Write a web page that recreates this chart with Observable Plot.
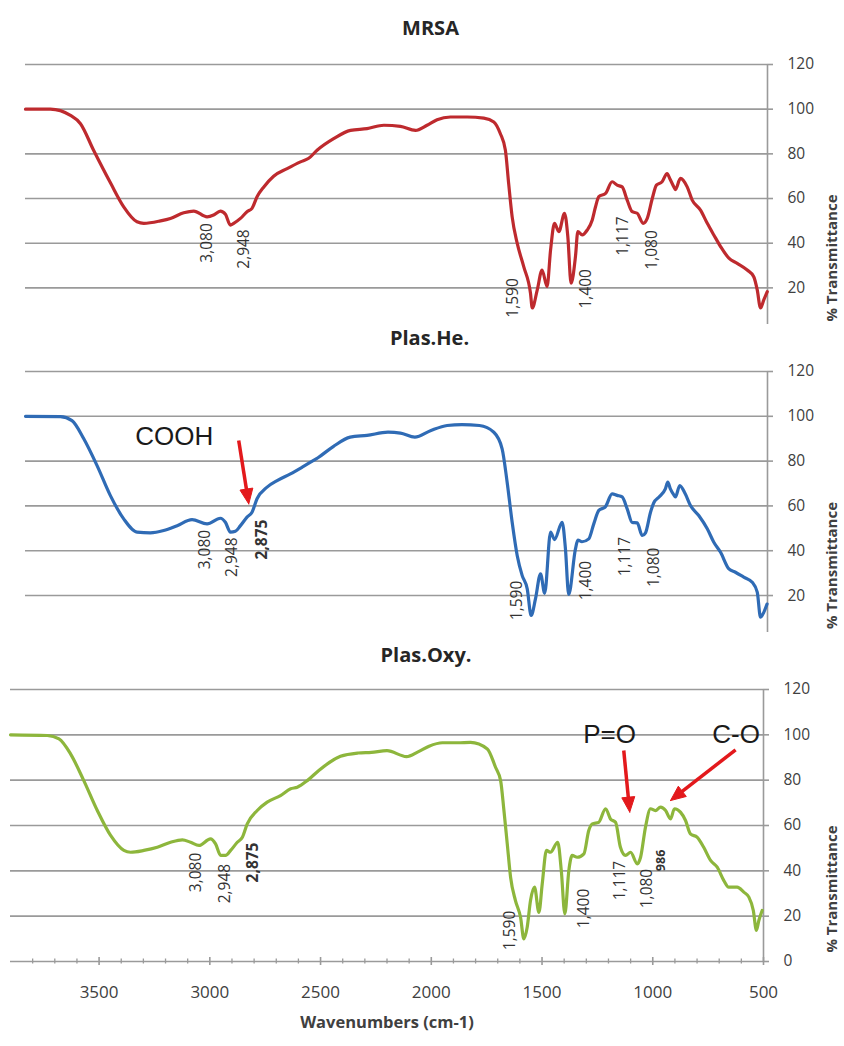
<!DOCTYPE html>
<html>
<head>
<meta charset="utf-8">
<script src="https://cdn.jsdelivr.net/npm/d3@7"></script>
<script src="https://cdn.jsdelivr.net/npm/@observablehq/plot@0.6"></script>
<style>
html, body { margin: 0; padding: 0; background: #fff; overflow: hidden; width: 844px; height: 1046px; }
#wrap { position: relative; width: 844px; height: 1046px; }
.panel { position: absolute; left: 0; width: 844px; }
.panel svg { display: block; }
</style>
</head>
<body>
<div id="wrap"></div>
<script>
// ---------------- data ----------------
const xDomain = [3900, 500];

// MRSA spectrum
const mrsaWn = [3900,3786,3694,3648,3588,3509,3450,3389,3358,3282,3236,3175,3129,3068,3038,3007,2984,2961,2946,2915,2885,2862,2839,2808,2763,2701,2640,2602,2564,2488,2411,2335,2258,2182,2113,2060,2014,1953,1876,1800,1754,1724,1701,1686,1670,1647,1617,1586,1578,1555,1533,1510,1494,1476,1456,1430,1415,1400,1380,1369,1349,1326,1303,1288,1273,1242,1212,1189,1166,1143,1120,1097,1070,1051,1028,1009,983,960,948,929,922,899,868,845,807,776,746,715,677,639,593,563,547,532,517,501];
const mrsaT = [100,100,97.2,93.5,81.6,66.7,56.3,49.6,48.9,50,51.1,53.6,54.4,51.8,52.6,54.4,53,48.1,48.9,51.1,54.1,55.6,60.8,65.2,70,73.4,76.4,78,81.6,86.8,90.5,91.3,92.8,92.3,90.5,92.8,95.3,96.5,96.5,96,94.3,89,81.6,66.7,51.8,40,29.5,17.6,11,19.1,28,20.6,37,48.9,45.2,53.4,43,22.1,34,45.2,43.7,45.9,50.4,56.3,60.8,62.3,67.5,66,65.2,59.3,54.1,53.4,48.9,51.1,60,66,67.5,71.2,69,65.2,64,69,65.2,59.3,54.8,48.9,43.7,38.5,33.3,31,28,25,19.1,11,14.6,18.3];

// Plas.He. spectrum
const heWn = [3900,3740,3687,3633,3572,3511,3450,3389,3328,3267,3205,3137,3068,3007,2984,2961,2938,2915,2885,2862,2839,2793,2747,2686,2632,2594,2560,2490,2412,2335,2239,2182,2116,2042,1968,1900,1820,1754,1716,1693,1670,1647,1624,1601,1583,1563,1540,1521,1494,1476,1441,1426,1411,1380,1369,1350,1319,1296,1273,1243,1212,1189,1166,1143,1120,1097,1074,1059,1036,1021,998,968,957,945,930,922,902,877,853,815,776,746,715,677,647,609,570,547,532,517,502];
const heT = [100,99.9,98.1,90,78,64.6,54.2,48.3,48,49,51.2,53.9,52,54.5,52.7,48.3,48.7,51.2,55,57.2,63.2,68.4,71.3,74.3,77.3,79.5,81.5,86.5,90.7,91.5,92.9,92.5,90.7,93.7,95.9,96.3,95.9,92.9,85.5,70.6,52.7,37.9,28.9,23,11.1,18.6,29.7,21,48.3,45,52.7,41,20.5,40.8,44.7,44,45.3,52,58,59.6,65.4,64.7,64,58.7,52.6,52.4,46.8,48,57.2,61.4,63.9,67.6,70.6,67.6,65,64,69.1,65.4,60.2,55.7,49.8,43.8,39.3,31.9,30.4,28.2,25.9,21.5,10.3,12.5,16.2];

// Plas.Oxy. spectrum
const oxyWn = [3900,3734,3681,3629,3569,3508,3448,3388,3358,3298,3237,3177,3124,3087,3049,2997,2974,2951,2929,2906,2876,2853,2831,2786,2741,2681,2635,2605,2560,2508,2410,2330,2270,2200,2112,2060,2010,1950,1880,1823,1747,1710,1687,1672,1657,1642,1620,1597,1582,1567,1552,1534,1514,1499,1480,1462,1429,1413,1397,1379,1364,1341,1311,1289,1273,1244,1213,1191,1168,1146,1123,1100,1070,1055,1033,1010,988,965,942,920,902,875,852,830,799,770,739,709,679,657,619,589,566,546,532,521,506];
const oxyT = [100,99.7,98.2,91.6,79.8,66.6,55.6,49,48.2,49,50.4,52.6,53.7,52.6,51.2,54.1,51.9,46.8,46.8,49,52.6,54.8,60.7,66.6,70.3,73.2,76.2,76.9,79.8,84.3,90.5,92,92.3,93,90.4,92.5,95,96.5,96.5,96.7,93.8,85.7,79.8,66.6,51.9,37.2,26.9,19.5,10,15.1,26.9,32.8,21.7,34.3,49,48.2,52.6,40.1,21,40.1,46.8,46,47.5,57.8,60.7,61.4,67.4,62.9,61.4,50.4,46.8,48.2,43.1,46,59.2,67.4,66.6,68.1,66.6,62.9,67.4,65.9,62.2,56.3,54.8,50.4,44.6,41.6,35.7,32.8,32.8,30.6,28.4,22.5,13.7,18.1,22.5];

// axis ticks
const yTicksTop = [20, 40, 60, 80, 100, 120];
const yTicksBottom = [0, 20, 40, 60, 80, 100, 120];
const xMajorTicks = [3500, 3000, 2500, 2000, 1500, 1000, 500];
const xMinorTicks = [3800,3700,3600,3400,3300,3200,3100,2900,2800,2700,2600,2400,2300,2200,2100,1900,1800,1700,1600,1400,1300,1200,1100,900,800,700,600];

// peak labels (text, position in wavenumber / %T, bold flag)
const mrsaLabelText = ["3,080", "2,948", "1,590", "1,400", "1,117", "1,080"];
const mrsaLabelWn   = [3066, 2900, 1664, 1330, 1160, 1027];
const mrsaLabelT    = [40.1, 37.4, 15.5, 19.6, 43.2, 37];
const mrsaLabelBold = [0, 0, 0, 0, 0, 0];

const heLabelText = ["3,080", "2,948", "2,875", "1,590", "1,400", "1,117", "1,080"];
const heLabelWn   = [3079, 2953, 2816, 1647, 1330, 1151, 1021];
const heLabelT    = [40.5, 37.1, 45, 17.8, 26.7, 37.4, 32.6];
const heLabelBold = [0, 0, 1, 0, 0, 0, 0];

const oxyLabelText = ["3,080", "2,948", "2,875", "1,590", "1,400", "1,117", "1,080", "986"];
const oxyLabelWn   = [3064, 2933, 2804, 1645, 1311, 1149, 1028, 962];
const oxyLabelT    = [39.3, 34.4, 43.7, 13.7, 23.4, 35.7, 32.2, 44.6];
const oxyLabelBold = [0, 0, 1, 0, 0, 0, 0, 2];

// annotations (functional groups) and arrows
const heNoteText = ["COOH"];
const heNoteWn = [3218];
const heNoteT = [87];
const heArrowWn1 = [2923], heArrowT1 = [89.2], heArrowWn2 = [2877], heArrowT2 = [60.9];

const oxyNoteText = ["P=O", "C-O"];
const oxyNoteWn = [1195, 624];
const oxyNoteT = [96.6, 96.6];
const oxyArrowWn1 = [1131, 626], oxyArrowT1 = [93.1, 93.4], oxyArrowWn2 = [1104, 920], oxyArrowT2 = [65.9, 71];

// ---------------- styles ----------------
const GRID = "#9a9a9a";
const TXT = "#404040";
const ARROW = "#e3191c";
const FONT = "'Open Sans', sans-serif";

function panel(cfg) {
  const {width, height, mt, mb, ml, mr, yDomain, yTicks, wn, t, color,
         title, titleDx, titleDy, lbl, notes, arrows, bottomAxis} = cfg;
  const sx = d3.scaleLinear(xDomain, [ml, width - mr]);
  const sy = d3.scaleLinear(yDomain, [height - mb, mt]);
  const marks = [];
  // gridlines
  marks.push(Plot.ruleY(yTicks, {y: d => d, stroke: GRID, strokeWidth: 1.6}));
  // right axis line
  marks.push(Plot.ruleX([xDomain[1]], {x: d => d, stroke: GRID, strokeWidth: 1.6}));
  // right axis ticks
  marks.push(Plot.ruleY(yTicks, {y: d => d, x1: xDomain[1], x2: xDomain[1], insetRight: -6, stroke: GRID, strokeWidth: 1.6}));
  // right axis labels
  marks.push(Plot.text(yTicks, {y: d => d, frameAnchor: "right", dx: 20, textAnchor: "start",
    text: d => String(d), fontSize: 15.5, fill: TXT}));
  // y axis title (kept inside the page edge)
  marks.push(Plot.text(["% Transmittance"], {frameAnchor: "right", dx: 826 - (width - mr), rotate: -90,
    lineAnchor: "top", text: d => d, fontSize: 15, fontWeight: "bold", fill: TXT}));
  // title
  marks.push(Plot.text([title], {frameAnchor: "top", dx: titleDx, dy: titleDy, text: d => d,
    fontSize: 20, fontWeight: "bold", fill: "#262626"}));
  if (bottomAxis) {
    marks.push(Plot.ruleX(xMajorTicks, {x: d => d, y1: yDomain[0], y2: yDomain[0], insetTop: -4, insetBottom: -4, stroke: GRID, strokeWidth: 1.6}));
    marks.push(Plot.ruleX(xMinorTicks, {x: d => d, y1: yDomain[0], y2: yDomain[0], insetTop: -2.5, insetBottom: -2.5, stroke: GRID, strokeWidth: 1.3}));
    marks.push(Plot.text(xMajorTicks, {x: d => d, frameAnchor: "bottom", dy: 36, text: d => String(d), fontSize: 17, fill: TXT}));
    marks.push(Plot.text(["Wavenumbers (cm-1)"], {frameAnchor: "bottom", dy: 66, text: d => d, fontSize: 16.5, fontWeight: "bold", fill: TXT}));
  }
  // spectrum
  marks.push(Plot.line(t, {x: wn, y: t, stroke: color, strokeWidth: 3.2, curve: "monotone-x",
    strokeLinejoin: "round", strokeLinecap: "round"}));
  // peak labels
  const idxNormal = d3.range(lbl.text.length).filter(i => lbl.bold[i] === 0);
  const idxBold = d3.range(lbl.text.length).filter(i => lbl.bold[i] === 1);
  const idxSmallBold = d3.range(lbl.text.length).filter(i => lbl.bold[i] === 2);
  const lab = (idx, size, weight) => Plot.text(idx, {x: i => lbl.wn[i], y: i => lbl.t[i], text: i => lbl.text[i],
    rotate: -90, fontSize: size, fontWeight: weight, fill: "#333"});
  marks.push(lab(idxNormal, 15.5, "normal"));
  if (idxBold.length) marks.push(lab(idxBold, 15.5, "bold"));
  if (idxSmallBold.length) marks.push(lab(idxSmallBold, 12.5, "bold"));
  // annotation text
  if (notes) {
    marks.push(Plot.text(notes.text, {x: notes.wn, y: notes.t, text: notes.text, lineAnchor: "bottom",
      fontSize: 26, fontFamily: "'Liberation Sans', Arial, sans-serif", fill: "#1a1a1a"}));
  }
  // arrows with filled heads
  if (arrows) {
    const headLen = 15, headHalf = 6.5;
    const shaft = [], head = [];
    arrows.wn1.forEach((_, i) => {
      const S = [sx(arrows.wn1[i]), sy(arrows.t1[i])];
      const T = [sx(arrows.wn2[i]), sy(arrows.t2[i])];
      const dx = T[0] - S[0], dy = T[1] - S[1];
      const len = Math.hypot(dx, dy);
      const u = [dx / len, dy / len], n = [-u[1], u[0]];
      const B = [T[0] - u[0] * (headLen - 3), T[1] - u[1] * (headLen - 3)];
      const Bh = [T[0] - u[0] * headLen, T[1] - u[1] * headLen];
      shaft.push({x1: arrows.wn1[i], y1: arrows.t1[i], x2: sx.invert(B[0]), y2: sy.invert(B[1])});
      const pts = [T, [Bh[0] + n[0] * headHalf, Bh[1] + n[1] * headHalf], [Bh[0] - n[0] * headHalf, Bh[1] - n[1] * headHalf], T];
      pts.forEach(p => head.push({x: sx.invert(p[0]), y: sy.invert(p[1]), z: i}));
    });
    marks.push(Plot.link(shaft, {x1: "x1", y1: "y1", x2: "x2", y2: "y2", stroke: ARROW, strokeWidth: 3.5}));
    marks.push(Plot.line(head, {x: "x", y: "y", z: "z", fill: ARROW, stroke: ARROW, strokeWidth: 1}));
  }
  return Plot.plot({
    width, height,
    marginTop: mt, marginBottom: mb, marginLeft: ml, marginRight: mr,
    x: {domain: xDomain, axis: null},
    y: {domain: yDomain, axis: null},
    style: {fontFamily: FONT, background: "white", overflow: "hidden"},
    marks
  });
}

const wrap = document.getElementById("wrap");
function place(svg, top) {
  const d = document.createElement("div");
  d.className = "panel";
  d.style.top = top + "px";
  d.appendChild(svg);
  wrap.appendChild(d);
}

place(panel({
  width: 844, height: 324, mt: 64, mb: 0, ml: 25, mr: 77,
  yDomain: [3.6, 120], yTicks: yTicksTop, wn: mrsaWn, t: mrsaT, color: "#be2a2e",
  title: "MRSA", titleDx: 34, titleDy: -44,
  lbl: {text: mrsaLabelText, wn: mrsaLabelWn, t: mrsaLabelT, bold: mrsaLabelBold}
}), 0);

place(panel({
  width: 844, height: 308, mt: 47, mb: 0, ml: 25, mr: 77,
  yDomain: [3.5, 120], yTicks: yTicksTop, wn: heWn, t: heT, color: "#2f6bb5",
  title: "Plas.He.", titleDx: 33, titleDy: -41,
  lbl: {text: heLabelText, wn: heLabelWn, t: heLabelT, bold: heLabelBold},
  notes: {text: heNoteText, wn: heNoteWn, t: heNoteT},
  arrows: {wn1: heArrowWn1, t1: heArrowT1, wn2: heArrowWn2, t2: heArrowT2}
}), 324);

place(panel({
  width: 844, height: 414, mt: 57, mb: 85, ml: 10, mr: 81,
  yDomain: [0, 120], yTicks: yTicksBottom, wn: oxyWn, t: oxyT, color: "#8db63c",
  title: "Plas.Oxy.", titleDx: 39, titleDy: -41.5,
  lbl: {text: oxyLabelText, wn: oxyLabelWn, t: oxyLabelT, bold: oxyLabelBold},
  notes: {text: oxyNoteText, wn: oxyNoteWn, t: oxyNoteT},
  arrows: {wn1: oxyArrowWn1, t1: oxyArrowT1, wn2: oxyArrowWn2, t2: oxyArrowT2},
  bottomAxis: true
}), 632);
</script>
</body>
</html>
